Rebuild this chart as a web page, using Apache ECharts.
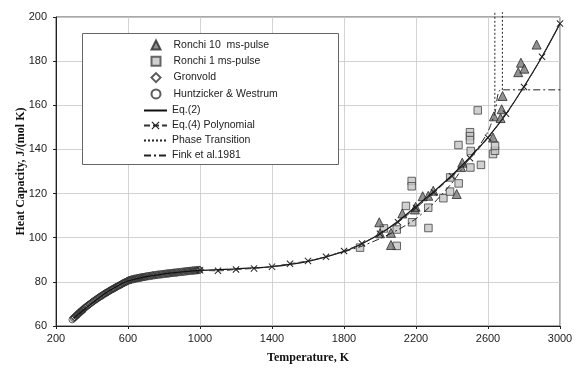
<!DOCTYPE html>
<html><head><meta charset="utf-8">
<script src="https://cdn.jsdelivr.net/npm/echarts@6/dist/echarts.min.js"></script>
<style>html,body{margin:0;padding:0;background:#fff}#c{width:580px;height:368px}</style>
</head><body><div id="c"></div>
<script>
// ---- data (T in K, Cp in J/(mol K)) ----
const xTicks = [200, 600, 1000, 1400, 1800, 2200, 2600, 3000];
const yTicks = [60, 80, 100, 120, 140, 160, 180, 200];

const ronchi10 = [[1996,107],[2000,102],[2061,102.2],[2061,96.7],[2124,111],[2194,112.8],[2198,114],
  [2237,118.8],[2268,119],[2296,121.3],[2426,119.8],[2450,132],[2457,134],[2628,145.4],[2633,155],
  [2670,154.2],[2676,158.2],[2681,164.2],[2768,175],[2783,179.3],[2802,176.6],[2870,187.5]];

const ronchi1 = [[1889,95.5],[2022,104.2],[2093,103.7],[2093,96.3],[2144,114.4],[2176,125.7],[2176,123.3],
  [2178,107],[2268,113.6],[2269,104.4],[2352,117.9],[2389,120.9],[2390,127.3],[2437,124.6],[2436,142],
  [2500,147.8],[2500,146],[2500,144.2],[2504,139.3],[2502,131.8],[2543,157.7],[2561,133],[2628,137.9],
  [2639,139.4],[2639,141.7]];

const gronvold = [[300,63.9],[305,64.1],[310,64.6],[316,65.1],[320,65.3],[324,65.6],[328,66.1],[332,66.2],
  [336,66.6],[340,66.8],[344,67.3],[348,67.2],[352,67.8],[356,67.9],[360,68.3],[364,68.4],[368,68.8],
  [372,68.9],[376,69.3],[380,69.4],[384,69.8],[388,69.9],[392,70.3],[396,70.4],[400,70.8],[404,70.9],
  [408,71.3],[412,71.4],[416,71.7],[420,71.8],[424,72.2],[428,72.3],[432,72.6],[436,72.7],[440,73.1],
  [444,73.2],[448,73.5],[452,73.6],[456,73.9],[460,74.0],[464,74.4],[468,74.4],[472,74.8],[476,74.9],
  [480,75.1],[484,75.2],[488,75.5],[492,75.6],[496,75.9],[500,76.0],[504,76.3],[508,76.4],[512,76.7],
  [516,76.8],[520,77.0],[524,77.1],[528,77.4],[532,77.5],[536,77.7],[540,77.9],[544,78.1],[548,78.2],
  [552,78.5],[556,78.6],[560,78.8],[564,78.9],[568,79.2],[572,79.3],[576,79.5],[580,79.6],[584,79.9],
  [588,79.9],[592,80.2],[596,80.3],[600,80.5],[604,80.6],[608,80.8],[612,80.8],[616,81.0],[620,81.0],
  [625,81.2],[630,81.2],[635,81.4],[640,81.4],[645,81.5],[650,81.6],[655,81.7],[660,81.7],[665,81.9],
  [670,81.9],[675,82.0],[680,82.1],[685,82.2],[690,82.2],[695,82.3],[700,82.4],[706,82.5],[712,82.6],
  [718,82.6],[724,82.7],[730,82.8],[736,82.9],[742,83.0],[748,83.0],[754,83.1],[760,83.2],[766,83.2],
  [772,83.3],[778,83.4],[784,83.4],[790,83.5],[796,83.5],[802,83.6],[808,83.7],[814,83.7],[820,83.8],
  [826,83.8],[832,83.9],[838,84.0],[844,84.0],[850,84.1],[856,84.1],[862,84.2],[868,84.2],[874,84.3],
  [880,84.4],[886,84.4],[892,84.5],[898,84.5],[904,84.6],[910,84.6],[916,84.7],[922,84.8],[928,84.8],
  [934,84.9],[940,84.9],[946,85.0],[952,85.0],[958,85.1],[964,85.1],[970,85.2],[976,85.2],[982,85.3],
  [988,85.3],[994,85.4],[1000,85.4]];

const huntzicker = [[290,62.9],[298,63.5],[305,64.0],[313,64.6],[320,65.1],[328,65.8],[336,66.3],[344,66.9],[350,67.3]];

const eq2 = [[298,63.5],[350,67.0],[400,70.3],[450,73.5],[500,76.2],[550,78.5],[600,80.4],[700,82.4],
  [800,83.6],[900,84.5],[1000,85.2],[1200,85.9],[1400,86.9],[1600,89.3],[1800,93.8],[1900,97.3],
  [2000,101.8],[2100,107.5],[2200,114.2],[2300,121],[2400,128.3],[2500,136.5],[2600,145.5],[2700,156],
  [2800,168.5],[2900,182],[3000,197]];

const eq4 = [[1000,85.3],[1100,85.0],[1200,85.6],[1300,86.1],[1400,86.9],[1500,88.2],[1600,89.5],
  [1700,91.4],[1800,94.0],[1900,97.4],[2000,101.8],[2100,107.0],[2200,113.5],[2300,120.5],[2400,127.8],
  [2500,136.0],[2600,145.3],[2700,156.2],[2800,168.3],[2900,182.0],[3000,197.0]];

const phaseA = [[2638,157.5],[2638,202.2]];
const phaseB = [[2680,167],[2680,202.2]];

const fink = [[1800,93.6],[1900,96.2],[2000,99.6],[2100,103.6],[2200,108.6],[2300,115.8],[2400,124.8],
  [2450,130.5],[2500,136.6],[2550,141.5],[2600,148],[2640,157],[2670,167],[3018,167]];

const names = ['Ronchi 10  ms-pulse','Ronchi 1 ms-pulse','Gronvold','Huntzicker & Westrum',
  'Eq.(2)','Eq.(4) Polynomial','Phase Transition','Fink et al.1981'];

const crossPath = 'path://M0,1L1,0L5,4L9,0L10,1L6,5L10,9L9,10L5,6L1,10L0,9L4,5Z';

const chart = echarts.init(document.getElementById('c'), null, {renderer:'canvas'});
const sans = 'Liberation Sans, Arial, sans-serif';
const serif = 'Liberation Serif, Times New Roman, serif';
const hidden = {color:'rgba(0,0,0,0)', borderColor:'rgba(0,0,0,0)', borderWidth:0};

chart.setOption({
  animation: false,
  backgroundColor: '#fff',
  grid: {left:56, right:20, top:17, bottom:42, show:true, borderColor:'#555', borderWidth:1,
    containLabel:false, outerBoundsMode:'none'},
  graphic: [{type:'rect', left:82, top:33, shape:{width:256, height:131},
    style:{fill:'#fff', stroke:'#666', lineWidth:1}, z:50}],
  legend: [
    {orient:'vertical', left:150.5, top:39.5, itemWidth:9, itemHeight:9, itemGap:5.3, padding:0, z:60,
      data: names.slice(0,4),
      textStyle:{fontFamily:sans, fontSize:10.5, color:'#222', padding:[0,0,0,8]}},
    {orient:'vertical', left:143, top:105, itemWidth:23, itemHeight:10, itemGap:4, padding:0, z:60,
      data: [{name:names[4], itemStyle:hidden}, {name:names[5]},
             {name:names[6], itemStyle:hidden}, {name:names[7], itemStyle:hidden}],
      textStyle:{fontFamily:sans, fontSize:10.5, color:'#222'}}
  ],
  xAxis: {
    type:'value', min:xTicks[0], max:xTicks[xTicks.length-1], interval:400,
    name:'Temperature, K', nameLocation:'middle', nameGap:26, nameMoveOverlap:false,
    nameTextStyle:{fontFamily:serif, fontWeight:'bold', fontSize:12, color:'#111'},
    axisLine:{show:true, lineStyle:{color:'#222', width:1}},
    axisTick:{show:true, length:3, lineStyle:{color:'#222'}},
    axisLabel:{fontFamily:sans, fontSize:11, color:'#222', margin:7, formatter: v => String(v)},
    splitLine:{show:true, lineStyle:{color:'#c8c8c8', width:0.8}}
  },
  yAxis: {
    type:'value', min:yTicks[0], max:yTicks[yTicks.length-1], interval:20,
    name:'Heat Capacity, J/(mol K)', nameLocation:'middle', nameGap:29, nameRotate:90, nameMoveOverlap:false,
    nameTextStyle:{fontFamily:serif, fontWeight:'bold', fontSize:12, color:'#111'},
    axisLine:{show:true, lineStyle:{color:'#222', width:1}},
    axisTick:{show:true, length:3, lineStyle:{color:'#222'}},
    axisLabel:{fontFamily:sans, fontSize:11, color:'#222', margin:9, formatter: v => String(v)},
    splitLine:{show:true, lineStyle:{color:'#c8c8c8', width:0.8}}
  },
  series: [
    {name:names[0], type:'scatter', data:ronchi10, symbol:'triangle', symbolSize:9, z:5,
      itemStyle:{color:'#777', borderColor:'#2a2a2a', borderWidth:1}},
    {name:names[1], type:'scatter', data:ronchi1, symbol:'rect', symbolSize:7.5, z:4,
      itemStyle:{color:'#c4c4c4', borderColor:'#444', borderWidth:1}},
    {name:names[2], type:'scatter', data:gronvold, symbol:'diamond', symbolSize:8, z:4,
      itemStyle:{color:'rgba(255,255,255,0)', borderColor:'#333', borderWidth:1}},
    {name:names[3], type:'scatter', data:huntzicker, symbol:'circle', symbolSize:6.5, z:4,
      itemStyle:{color:'rgba(255,255,255,0)', borderColor:'#333', borderWidth:1}},
    {name:names[4], type:'line', data:eq2, smooth:0.3, symbol:'none', z:6,
      lineStyle:{color:'#111', width:1.2, type:'solid'}, itemStyle:{color:'#111'}},
    {name:names[5], type:'line', data:eq4, smooth:0.3, symbol:crossPath, symbolSize:7, showSymbol:true, z:6,
      lineStyle:{color:'#333', width:1, type:[6,3]}, itemStyle:{color:'#222', borderWidth:0}},
    {name:names[6], type:'line', data:phaseA, symbol:'none', clip:false, z:6,
      lineStyle:{color:'#222', width:1, type:[2,2]}, itemStyle:{color:'#222'}},
    {name:names[6], type:'line', data:phaseB, symbol:'none', clip:false, z:6,
      lineStyle:{color:'#222', width:1, type:[2,2]}, itemStyle:{color:'#222'}},
    {name:names[7], type:'line', data:fink, smooth:0.2, symbol:'none', clip:false, z:6,
      lineStyle:{color:'#222', width:1, type:[7,3,2,3]}, itemStyle:{color:'#222'}}
  ]
});
</script></body></html>
